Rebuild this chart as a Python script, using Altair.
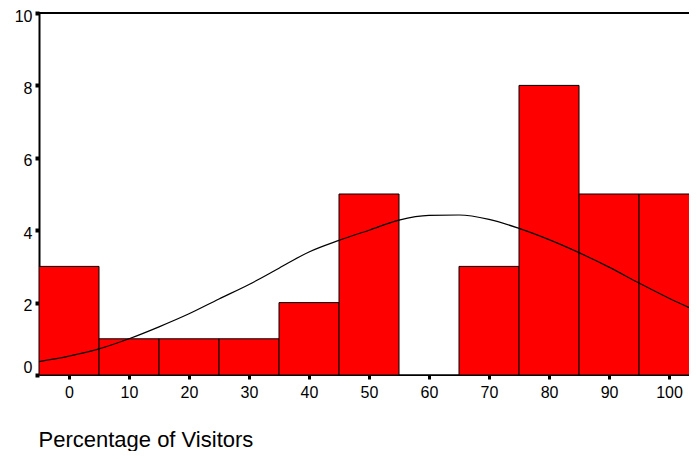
import altair as alt
import pandas as pd

# Histogram bins (centres) and counts
bin_centers = [0, 10, 20, 30, 40, 50, 60, 70, 80, 90, 100]
counts = [3, 1, 1, 1, 2, 5, 0, 3, 8, 5, 5]
bin_width = 10

# Normal curve
curve_x = [-5, 0, 5, 10, 15, 20, 25, 30, 35, 40, 45, 50, 55, 60, 65, 70, 75, 80, 85, 90, 95, 100, 105]
curve_y = [0.37, 0.52, 0.72, 1.00, 1.33, 1.69, 2.10, 2.50, 2.95, 3.40, 3.72, 4.00, 4.28, 4.41, 4.42,
           4.30, 4.05, 3.74, 3.38, 2.98, 2.54, 2.12, 1.74]

x_ticks = [0, 10, 20, 30, 40, 50, 60, 70, 80, 90, 100]
y_ticks = [0, 2, 4, 6, 8, 10]

bars_df = pd.DataFrame({
    "lo": [c - bin_width / 2 for c in bin_centers],
    "hi": [c + bin_width / 2 for c in bin_centers],
    "count": counts,
})
curve_df = pd.DataFrame({"x": curve_x, "y": curve_y})

FONT = "Liberation Sans"
xscale = alt.Scale(domain=[-5, 103.33], nice=False, zero=False)
yscale = alt.Scale(domain=[0, 10], nice=False)

x_axis = alt.Axis(
    values=x_ticks, format="d", grid=False,
    domain=True, domainColor="black", domainWidth=1,
    ticks=True, tickSize=4, tickWidth=3, tickColor="black",
    labelFont=FONT, labelFontSize=16, labelColor="black", labelPadding=5,
    title="Percentage of Visitors", titleFont=FONT, titleFontSize=22,
    titleFontWeight="normal", titleColor="black",
    titleAlign="left", titleX=-1, titleY=71, titleBaseline="alphabetic",
)
y_axis = alt.Axis(
    values=y_ticks, format="d", grid=False, title=None,
    domain=True, domainColor="black", domainWidth=2,
    ticks=True, tickSize=4, tickWidth=4, tickColor="black",
    labelFont=FONT, labelFontSize=16, labelColor="black", labelPadding=3,
    labelOffset=alt.ExprRef("datum.value == 0 ? -8 : 3"),
)

bars = alt.Chart(bars_df).mark_rect(
    color="#ff0000", stroke="black", strokeWidth=1, clip=True
).encode(
    x=alt.X("lo:Q", scale=xscale, axis=x_axis),
    x2="hi:Q",
    y=alt.Y("count:Q", scale=yscale, axis=y_axis),
    y2=alt.datum(0),
)

curve = alt.Chart(curve_df).mark_line(
    color="black", strokeWidth=1.2, interpolate="monotone", clip=True
).encode(
    x=alt.X("x:Q", scale=xscale),
    y=alt.Y("y:Q", scale=yscale),
)

top_line = alt.Chart(pd.DataFrame({"v": [10]})).mark_rule(
    color="black", strokeWidth=2
).encode(y=alt.Y("v:Q", scale=yscale))

chart = alt.layer(bars, curve, top_line).properties(
    width=650,
    height=362,
    padding={"left": 31, "top": 5, "right": 0, "bottom": 76},
    autosize=alt.AutoSizeParams(type="none"),
).configure_view(stroke=None).configure(background="white")

chart.save("out.html", embed_options={"renderer": "svg", "actions": False})
